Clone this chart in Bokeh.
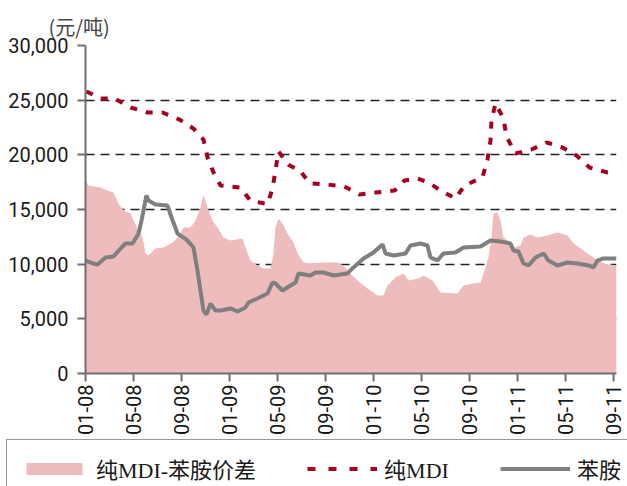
import math
from bokeh.plotting import figure
from bokeh.layouts import column
from bokeh.models import FixedTicker, NumeralTickFormatter, Legend, LegendItem
from bokeh.embed import file_html
from bokeh.resources import INLINE

# x positions are months since Jan 2008
tick_months = [0, 4, 8, 12, 16, 20, 24, 28, 32, 36, 40, 44]
tick_labels = ["01-08", "05-08", "09-08", "01-09", "05-09", "09-09",
               "01-10", "05-10", "09-10", "01-11", "05-11", "09-11"]

spread_month = [0, 0.25, 0.67, 1.25, 1.83, 2.33, 2.75, 3.17, 3.75, 4.0, 4.42, 4.75, 5.0, 5.25,
                5.83, 6.5, 7.25, 7.67, 8.17, 8.75, 9.17, 9.58, 9.83, 10.17, 10.58, 11.0, 11.5,
                12.08, 13.08, 13.33, 13.75, 14.33, 14.83, 15.42, 15.67, 15.83, 16.08, 16.42,
                16.83, 17.33, 17.67, 18.17, 18.75, 19.83, 21.0, 21.5, 21.83, 22.67, 23.5, 24.33,
                24.83, 25.17, 25.83, 26.5, 26.92, 27.75, 28.17, 28.92, 29.58, 31.0, 31.5, 32.33,
                32.92, 33.17, 33.58, 33.83, 34.0, 34.33, 34.58, 34.83, 35.17, 35.67, 36.25, 36.5,
                37.08, 37.67, 38.5, 39.33, 40.17, 40.67, 41.5, 42.33, 43.17, 44.25]
spread_value = [17650, 17200, 17100, 17010, 16740, 16550, 15550, 14900, 14630, 14000, 13080,
                12440, 10980, 10790, 11430, 11520, 11980, 12440, 13350, 13350, 14000, 15180,
                16370, 15180, 14000, 13350, 12440, 12160, 12350, 11520, 10330, 9880, 9600, 9600,
                10980, 13350, 14180, 13720, 12800, 11980, 10980, 10150, 10060, 10150, 10150, 9880,
                9420, 8510, 7770, 7130, 7130, 8050, 8780, 9150, 8510, 8690, 8960, 8510, 7410,
                7320, 8050, 8230, 8320, 9150, 10610, 12440, 14630, 14730, 14000, 12440, 12160,
                11520, 11710, 12440, 12710, 12440, 12620, 12900, 12620, 11890, 11250, 10610,
                10060, 9880]

mdi_month = [0.08, 1.25, 2.42, 3.75, 5.17, 6.42, 7.83, 9.0, 9.83, 10.17, 10.67, 11.25, 12.92,
             13.75, 15.17, 15.58, 15.83, 16.08, 16.92, 17.92, 18.67, 20.08, 21.58, 22.83, 24.17,
             25.75, 26.58, 27.67, 28.58, 29.58, 30.83, 31.58, 33.08, 33.5, 33.75, 33.83, 34.17,
             34.83, 35.08, 35.83, 37.17, 38.42, 39.75, 40.92, 42.0, 43.5, 44.25]
mdi_value = [25800, 25150, 25150, 24330, 23870, 23870, 23230, 22400, 21400, 19760, 18380, 17200,
             17000, 15800, 15500, 16900, 18570, 20300, 19100, 18500, 17400, 17300, 17100, 16370,
             16550, 16740, 17650, 17830, 17470, 16740, 16000, 17200, 17930, 19570, 21300, 23140,
             24700, 23320, 21680, 20120, 20490, 21130, 20670, 19940, 18840, 18380, 18300]

aniline_month = [0.0, 0.67, 1.0, 1.67, 2.33, 2.92, 3.33, 3.92, 4.42, 4.67, 4.83, 5.08, 5.25, 5.83,
                 6.83, 7.17, 7.67, 8.42, 9.0, 9.33, 9.58, 9.83, 10.08, 10.42, 10.83, 11.25, 12.08,
                 12.67, 13.33, 13.58, 14.33, 15.17, 15.58, 15.83, 16.42, 17.08, 17.5, 17.75,
                 18.75, 19.17, 19.83, 20.67, 21.83, 22.33, 23.17, 24.0, 24.75, 25.0, 25.67, 26.67,
                 27.08, 27.92, 28.5, 28.75, 29.33, 29.83, 30.83, 31.5, 32.92, 33.75, 34.58, 35.42,
                 35.67, 36.08, 36.5, 36.92, 37.5, 38.17, 38.58, 39.33, 40.17, 41.0, 41.92, 42.33,
                 42.67, 43.17, 44.25]
aniline_value = [10335, 10060, 9970, 10610, 10700, 11430, 11890, 11890, 12800, 14000, 14900,
                 16280, 15820, 15460, 15360, 14270, 12800, 12250, 11520, 9420, 7590, 5760, 5400,
                 6400, 5760, 5760, 5950, 5670, 6040, 6490, 6860, 7320, 8320, 8230, 7590, 8050,
                 8320, 9150, 8960, 9240, 9240, 8960, 9150, 9700, 10520, 11070, 11800, 10980,
                 10790, 10980, 11710, 11890, 11710, 10610, 10340, 10980, 11070, 11520, 11620,
                 12160, 12070, 11890, 11250, 11160, 10060, 9880, 10610, 10980, 10330, 9880,
                 10150, 10060, 9880, 9700, 10330, 10520, 10520]

label_spread = "纯MDI-苯胺价差"
label_mdi = "纯MDI"
label_aniline = "苯胺"
unit_label = "(元/吨)"

AREA = "#EEBCBC"
RED = "#A50021"
GRAY = "#7F7F7F"
TICK_FONT = "Roboto"

p = figure(width=627, height=438, output_backend="svg", toolbar_location=None,
           x_range=(0, 44.25), y_range=(0, 30000),
           min_border_left=85, min_border_right=11, min_border_top=45, min_border_bottom=65)
p.outline_line_color = None
p.background_fill_color = "white"

p.varea(x=spread_month, y1=0, y2=spread_value, fill_color=AREA)
p.line(mdi_month, mdi_value, line_color=RED, line_width=4, line_dash="7 9")
p.line(aniline_month, aniline_value, line_color=GRAY, line_width=4)

p.title.text = unit_label
p.title.text_font = "Noto Sans CJK SC"
p.title.text_font_size = "20px"
p.title.text_font_style = "normal"
p.title.align = "left"
p.title.offset = -37
p.title.standoff = 10

p.xgrid.grid_line_color = None
p.ygrid.grid_line_color = "#222222"
p.ygrid.grid_line_dash = "9 6"
p.ygrid.grid_line_width = 1.5
p.yaxis.ticker = FixedTicker(ticks=[0, 5000, 10000, 15000, 20000, 25000, 30000])
p.yaxis.formatter = NumeralTickFormatter(format="0,0")
p.xaxis.ticker = FixedTicker(ticks=tick_months)
p.xaxis.major_label_overrides = {m: l for m, l in zip(tick_months, tick_labels)}
p.xaxis.major_label_orientation = math.pi / 2

for ax in (p.xaxis, p.yaxis):
    ax.axis_line_color = "#6E6E6E"
    ax.axis_line_width = 2
    ax.major_tick_line_color = "#6E6E6E"
    ax.major_tick_line_width = 2
    ax.major_tick_out = 8
    ax.major_tick_in = 0
    ax.minor_tick_line_color = None
    ax.major_label_text_font = TICK_FONT
    ax.major_label_text_font_size = "20px"
    ax.major_label_text_color = "#1a1a1a"
p.yaxis.major_label_standoff = 9
p.xaxis.major_label_standoff = 3

# legend strip below the chart (legend-only renderers sit outside the visible range)
lg = figure(width=627, height=48, output_backend="svg", toolbar_location=None,
            x_range=(0, 1), y_range=(0, 1), x_axis_type=None, y_axis_type=None,
            min_border_left=5, min_border_right=0, min_border_top=0, min_border_bottom=0)
lg.outline_line_color = None
lg.xgrid.grid_line_color = None
lg.ygrid.grid_line_color = None
r_area = lg.varea(x=[5, 6], y1=[5, 5], y2=[6, 6], fill_color=AREA)
r_mdi = lg.line([5, 6], [5, 5], line_color=RED, line_width=4, line_dash="8 13")
r_ani = lg.line([5, 6], [5, 5], line_color=GRAY, line_width=4)
r_dummy = lg.line([5, 6], [5, 5], line_alpha=0)

legend = Legend(items=[LegendItem(label=label_spread, renderers=[r_area]),
                       LegendItem(label=label_mdi, renderers=[r_mdi]),
                       LegendItem(label=label_aniline, renderers=[r_ani]),
                       LegendItem(label=" ", renderers=[r_dummy])],
                location="top_left", orientation="horizontal",
                glyph_width=70, glyph_height=15, label_standoff=7, spacing=51,
                padding=12, margin=1, label_height=20,
                label_text_font="'Liberation Serif', 'Noto Sans CJK SC', serif",
                label_text_font_size="22px", label_text_color="#1a1a1a",
                border_line_color="#333333", border_line_width=1.5,
                background_fill_alpha=0)
lg.add_layout(legend)

layout = column(p, column(lg, spacing=0), spacing=0)
open("out.html", "w").write(file_html(layout, INLINE))
